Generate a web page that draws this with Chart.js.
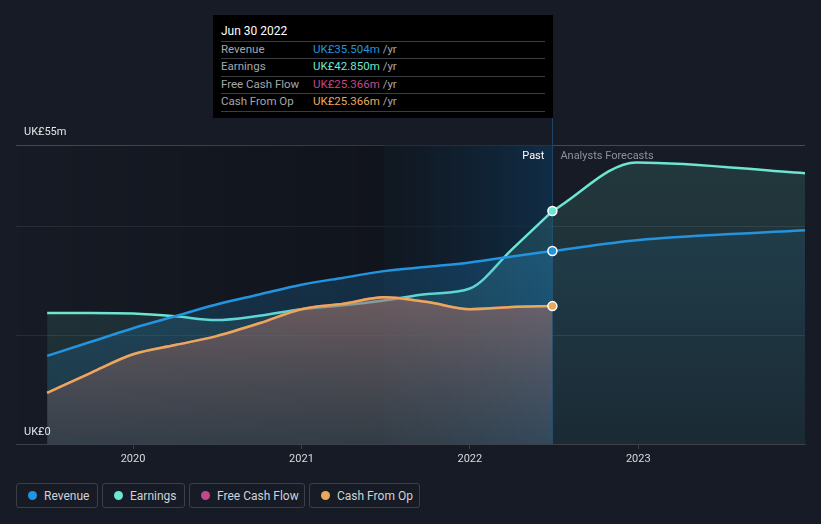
<!DOCTYPE html>
<html>
<head>
<meta charset="utf-8">
<script src="https://cdn.jsdelivr.net/npm/chart.js@4.4.1/dist/chart.umd.min.js"></script>
<style>
  html, body { margin: 0; padding: 0; background: #161b25; width: 821px; height: 524px; overflow: hidden; font-family: Roboto, "Noto Sans", sans-serif; }
  #wrap { position: absolute; left: 0; top: 0; width: 821px; height: 470px; }
  #tip { position: absolute; left: 213px; top: 15px; width: 340px; height: 103px; background: #000; }
  #tip .t { position: absolute; left: 8px; top: 9px; font-size: 12px; color: #fff; line-height: 14px; }
  #tip .sep { position: absolute; left: 8px; width: 324px; height: 1px; background: #3a3d42; }
  #tip .row { position: absolute; left: 8px; font-size: 11.5px; line-height: 14px; color: #a3a7ad; white-space: nowrap; }
  #tip .row .v { position: absolute; left: 92px; }
  #legend { position: absolute; top: 483px; left: 16px; height: 25px; }
  .lg { position: absolute; top: 0; height: 23px; border: 1px solid #3a3f4a; border-radius: 3px; box-sizing: content-box; font-size: 12px; color: #cfd2d7; line-height: 24px; white-space: nowrap; }
  .lg .dot { position: absolute; left: 11px; top: 7px; width: 9px; height: 9px; border-radius: 50%; }
  .lg .lt { position: absolute; left: 27px; top: 0; }
</style>
</head>
<body>
<div id="wrap"><canvas id="c" width="821" height="470"></canvas></div>
<div id="tip">
  <div class="t">Jun 30 2022</div>
  <div class="sep" style="top:26px"></div>
  <div class="row" style="top:27px">Revenue<span class="v"><span style="color:#2394df">UK£35.504m</span> /yr</span></div>
  <div class="sep" style="top:43px"></div>
  <div class="row" style="top:44px">Earnings<span class="v"><span style="color:#6ce6d1">UK£42.850m</span> /yr</span></div>
  <div class="sep" style="top:61px"></div>
  <div class="row" style="top:62px">Free Cash Flow<span class="v"><span style="color:#c4478a">UK£25.366m</span> /yr</span></div>
  <div class="sep" style="top:78px"></div>
  <div class="row" style="top:79px">Cash From Op<span class="v"><span style="color:#e9a95a">UK£25.366m</span> /yr</span></div>
  <div class="sep" style="top:96px"></div>
</div>
<div id="legend">
  <div class="lg" style="left:0;width:80px"><span class="dot" style="background:#2394df"></span><span class="lt">Revenue</span></div>
  <div class="lg" style="left:86px;width:81px"><span class="dot" style="background:#6ce6d1"></span><span class="lt">Earnings</span></div>
  <div class="lg" style="left:173px;width:114px"><span class="dot" style="background:#c4478a"></span><span class="lt">Free Cash Flow</span></div>
  <div class="lg" style="left:293px;width:109px"><span class="dot" style="background:#e9a95a"></span><span class="lt">Cash From Op</span></div>
</div>
<script>
// ---- data (UK£ millions, trailing twelve months) ----
const pastDates      = [2019.49, 2019.75, 2020.0, 2020.25, 2020.49, 2020.75, 2021.0, 2021.25, 2021.49, 2021.75, 2022.0, 2022.25, 2022.49];
const revenuePast    = [16.2, 18.8, 21.3, 23.5, 25.6, 27.5, 29.3, 30.6, 31.8, 32.6, 33.4, 34.5, 35.504];
const earningsPast   = [24.1, 24.1, 24.0, 23.5, 22.8, 23.6, 24.8, 25.5, 26.4, 27.6, 28.6, 35.8, 42.85];
const fcfPast        = [9.4, 13.1, 16.5, 18.2, 19.8, 22.2, 24.8, 25.8, 27.0, 26.1, 24.8, 25.2, 25.366];
const cfoPast        = [9.4, 13.1, 16.5, 18.2, 19.8, 22.2, 24.8, 25.8, 27.0, 26.1, 24.8, 25.2, 25.366];
const forecastDates  = [2022.49, 2022.99, 2023.99];
const revenueForecast  = [35.504, 37.5, 39.3];
const earningsForecast = [42.85, 51.8, 49.8];
const xTicks = [2020, 2021, 2022, 2023];
const yGridValues = [0, 20, 40, 55];
const yLabels = { 55: "UK£55m", 0: "UK£0" };
const nowDate = 2022.49;
const pastBandStart = 2021.49;

const FONT = "Roboto, 'Noto Sans', sans-serif";
const pts = (xs, ys) => xs.map((x, i) => ({ x: x, y: ys[i] }));

function vGrad(ctx, stops) {
  const ca = ctx.chart.chartArea;
  if (!ca) return stops[0][1];
  const g = ctx.chart.ctx.createLinearGradient(0, ca.top, 0, ca.bottom);
  stops.forEach(s => g.addColorStop(s[0], s[1]));
  return g;
}
const lastIdx = pastDates.length - 1;
const markerRadius = ctx => (ctx.dataIndex === lastIdx ? 4.5 : 0);

const bgPlugin = {
  id: 'bg',
  beforeDatasetsDraw(chart) {
    const { ctx, chartArea: ca, scales: { x } } = chart;
    const xb = x.getPixelForValue(pastBandStart);
    const xn = x.getPixelForValue(nowDate);
    ctx.save();
    let g = ctx.createLinearGradient(ca.left, 0, xb, 0);
    g.addColorStop(0, 'rgba(0,0,0,0)');
    g.addColorStop(1, 'rgba(0,0,0,0.24)');
    ctx.fillStyle = g;
    ctx.fillRect(ca.left, ca.top, xb - ca.left, ca.bottom - ca.top);
    g = ctx.createLinearGradient(xb, 0, xn, 0);
    g.addColorStop(0, 'rgba(12,21,30,0.5)');
    g.addColorStop(1, 'rgba(15,50,80,0.78)');
    ctx.fillStyle = g;
    ctx.fillRect(xb, ca.top, xn - xb, ca.bottom - ca.top);
    ctx.strokeStyle = '#1d4466';
    ctx.lineWidth = 1;
    ctx.beginPath();
    ctx.moveTo(Math.round(xn) + 0.5, 118);
    ctx.lineTo(Math.round(xn) + 0.5, ca.bottom);
    ctx.stroke();
    ctx.restore();
  },
  afterDraw(chart) {
    const { ctx, chartArea: ca, scales: { x, y } } = chart;
    const xn = x.getPixelForValue(nowDate);
    ctx.save();
    ctx.font = "11px " + FONT;
    ctx.textBaseline = 'middle';
    ctx.fillStyle = '#e3e5e8';
    ctx.textAlign = 'left';
    ctx.fillText(yLabels[55], ca.left + 8, y.getPixelForValue(55) - 13);
    ctx.fillText(yLabels[0], ca.left + 8, y.getPixelForValue(0) - 12);
    ctx.textAlign = 'right';
    ctx.fillStyle = '#ffffff';
    ctx.fillText('Past', xn - 8, ca.top + 11);
    ctx.textAlign = 'left';
    ctx.fillStyle = '#8c9199';
    ctx.fillText('Analysts Forecasts', xn + 8, ca.top + 11);
    ctx.restore();
  }
};

new Chart(document.getElementById('c'), {
  type: 'line',
  data: {
    datasets: [
      { label: 'Cash From Op', data: pts(pastDates, cfoPast), borderColor: '#e9a95a', borderWidth: 2.5,
        fill: 'origin',
        backgroundColor: ctx => vGrad(ctx, [[0, 'rgba(178,114,104,0.58)'], [0.5, 'rgba(172,112,104,0.56)'], [1, 'rgba(94,80,84,0.38)']]),
        pointRadius: markerRadius, pointBackgroundColor: '#e9a95a', pointBorderColor: '#ffffff', pointBorderWidth: 1.5 },
      { label: 'Free Cash Flow', data: pts(pastDates, fcfPast), borderColor: '#c4478a', borderWidth: 2.5,
        fill: false, pointRadius: 0 },
      { label: 'Revenue', data: pts(pastDates, revenuePast), borderColor: '#2394df', borderWidth: 2.5,
        fill: 'origin',
        backgroundColor: ctx => vGrad(ctx, [[0, 'rgba(35,148,223,0.30)'], [1, 'rgba(35,148,223,0.10)']]),
        pointRadius: markerRadius, pointBackgroundColor: '#2394df', pointBorderColor: '#ffffff', pointBorderWidth: 1.5 },
      { label: 'Earnings', data: pts(pastDates, earningsPast), borderColor: '#6ce6d1', borderWidth: 2.5,
        fill: 'origin',
        backgroundColor: ctx => vGrad(ctx, [[0, 'rgba(108,230,209,0.16)'], [1, 'rgba(108,230,209,0.08)']]),
        pointRadius: markerRadius, pointBackgroundColor: '#6ce6d1', pointBorderColor: '#ffffff', pointBorderWidth: 1.5 },
      { label: 'Revenue forecast', data: pts(forecastDates, revenueForecast), borderColor: '#2394df', borderWidth: 2.5,
        fill: 'origin',
        backgroundColor: ctx => vGrad(ctx, [[0, 'rgba(35,148,223,0.12)'], [1, 'rgba(35,148,223,0.03)']]),
        pointRadius: 0 },
      { label: 'Earnings forecast', data: pts(forecastDates, earningsForecast), borderColor: '#6ce6d1', borderWidth: 2.5,
        fill: 'origin',
        backgroundColor: ctx => vGrad(ctx, [[0, 'rgba(108,230,209,0.15)'], [1, 'rgba(108,230,209,0.06)']]),
        pointRadius: 0 }
    ]
  },
  options: {
    responsive: false,
    animation: false,
    devicePixelRatio: 1,
    layout: { padding: { left: 16, right: 16, top: 145, bottom: 0 } },
    plugins: { legend: { display: false }, tooltip: { enabled: false } },
    elements: { line: { cubicInterpolationMode: 'monotone', tension: 0.4 }, point: { hoverRadius: 0 } },
    events: [],
    scales: {
      x: {
        type: 'linear', min: 2019.305, max: 2023.99,
        afterBuildTicks: s => { s.ticks = xTicks.map(v => ({ value: v })); },
        afterFit: s => { s.height = 26; },
        ticks: { color: '#d8dadd', font: { family: FONT, size: 11 }, padding: 4, callback: v => String(v), maxRotation: 0 },
        grid: { drawOnChartArea: false, drawTicks: true, tickLength: 5, color: '#3b4049' },
        border: { color: '#3b4049', width: 1 }
      },
      y: {
        min: 0, max: 55,
        afterBuildTicks: s => { s.ticks = yGridValues.map(v => ({ value: v })); },
        afterFit: s => { s.width = 0; },
        ticks: { display: false },
        grid: { drawTicks: false, color: ctx => (ctx.tick && ctx.tick.value === 55 ? 'rgba(255,255,255,0.2)' : 'rgba(255,255,255,0.08)') },
        border: { display: false }
      }
    }
  },
  plugins: [bgPlugin]
});
</script>
</body>
</html>
